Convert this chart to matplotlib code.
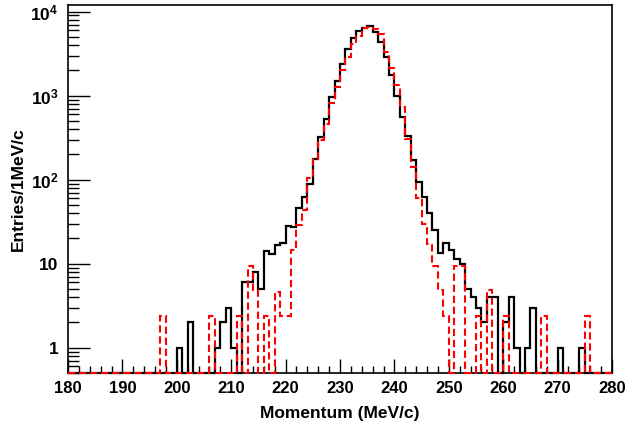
import numpy as np
import matplotlib
matplotlib.use("Agg")
import matplotlib.pyplot as plt
from matplotlib.ticker import FixedLocator, FuncFormatter, NullFormatter

plt.rcParams['font.family'] = ['Liberation Sans', 'DejaVu Sans']
plt.rcParams['font.weight'] = 'bold'
plt.rcParams['mathtext.fontset'] = 'custom'
plt.rcParams['mathtext.rm'] = 'Liberation Sans:bold'
plt.rcParams['mathtext.bf'] = 'Liberation Sans:bold'
plt.rcParams['mathtext.default'] = 'bf'

# histogram range: 100 bins of 1 MeV/c from 180 to 280
x_lo, x_hi = 180, 280

# data (black solid), non-empty bins only
data_bins = [200, 202, 207, 208, 209, 210, 212, 213, 214, 215, 216, 217, 218, 219,
             220, 221, 222, 223, 224, 225, 226, 227, 228, 229, 230, 231, 232, 233,
             234, 235, 236, 237, 238, 239, 240, 241, 242, 243, 244, 245, 246, 247,
             248, 249, 250, 251, 252, 253, 254, 255, 256, 257, 258, 260, 261, 262,
             264, 265, 270, 274]
data_counts = [1, 2, 1, 2, 3, 1, 6, 6, 8, 5, 14, 13, 16.5, 17.5,
               28, 27, 46, 63, 90, 178, 320, 530, 960, 1480, 2380, 3600, 4800, 5900,
               6400, 6700, 5800, 4350, 2900, 1780, 990, 560, 335, 170, 94, 62, 40, 25,
               13.4, 17.6, 14.4, 11.5, 10, 5, 4, 3, 2, 4, 4, 2, 4, 1,
               1, 3, 1, 1]

# simulation (red dashed), non-empty bins only
mc_bins = [197, 206, 211, 213, 214, 216, 218, 219, 220, 221, 222, 223, 224, 225,
           226, 227, 228, 229, 230, 231, 232, 233, 234, 235, 236, 237, 238, 239,
           240, 241, 242, 243, 244, 245, 246, 247, 248, 249, 251, 252, 255, 257,
           260, 267, 275]
mc_counts = [2.4, 2.4, 2.4, 9.5, 4.8, 2.4, 4.6, 2.4, 2.4, 14.4, 29, 43, 105, 178,
             294, 464, 820, 1260, 2000, 2890, 4170, 5130, 6400, 6600, 6270, 5470, 3300, 2150,
             1350, 733, 307, 140, 60, 30, 17, 9.5, 4.8, 2.4, 9.5, 9.5, 2.4, 4.8,
             2.4, 2.4, 2.4]

y_lo, y_hi = 0.5, 1.2e4

edges = np.arange(x_lo, x_hi + 1)
data_h = np.zeros(len(edges) - 1)
data_h[np.array(data_bins) - x_lo] = data_counts
mc_h = np.zeros(len(edges) - 1)
mc_h[np.array(mc_bins) - x_lo] = mc_counts

fig = plt.figure(figsize=(6.26, 4.30), dpi=100)
ax = fig.add_axes([68 / 626, 1 - 373 / 430, (612 - 68) / 626, (373 - 5) / 430])

# empty bins are drawn on the lower frame edge, like ROOT does
ax.stairs(np.maximum(data_h, y_lo), edges, baseline=None, color='black', lw=1.6,
          clip_on=False, zorder=3)
ax.stairs(np.maximum(mc_h, y_lo), edges, baseline=None, color='red', lw=1.5,
          linestyle=(0, (3.5, 1.8)), clip_on=False, zorder=4)

ax.set_yscale('log')
ax.set_xlim(x_lo, x_hi)
ax.set_ylim(y_lo, y_hi)

ax.xaxis.set_major_locator(FixedLocator(np.arange(180, 281, 10)))
ax.xaxis.set_minor_locator(FixedLocator(np.arange(180, 281, 2)))
ax.yaxis.set_major_locator(FixedLocator([1, 10, 100, 1000, 10000]))
minors = [m * 10.0 ** d for d in range(-1, 4) for m in range(2, 10)]
ax.yaxis.set_minor_locator(FixedLocator([v for v in minors if y_lo <= v <= y_hi]))
ax.yaxis.set_minor_formatter(NullFormatter())


def ylab(v, pos):
    if v < 5:
        return '1'
    if v < 50:
        return '10'
    return r'$10^{%d}$' % round(np.log10(v))


ax.yaxis.set_major_formatter(FuncFormatter(ylab))

ax.tick_params(axis='x', which='major', direction='in', length=10, width=1, pad=6,
               labelsize=12, top=False)
ax.tick_params(axis='x', which='minor', direction='in', length=5, width=1, top=False)
ax.tick_params(axis='y', which='major', direction='in', length=16, width=1, pad=7,
               labelsize=12.5, right=False)
ax.tick_params(axis='y', which='minor', direction='in', length=8, width=1, right=False)
for s in ax.spines.values():
    s.set_linewidth(1.2)

ax.set_xlabel('Momentum (MeV/c)', fontsize=12.5, fontweight='bold', labelpad=7)
ax.set_ylabel('Entries/1MeV/c', fontsize=12.5, fontweight='bold', labelpad=3)

fig.savefig('out.png', dpi=100)
